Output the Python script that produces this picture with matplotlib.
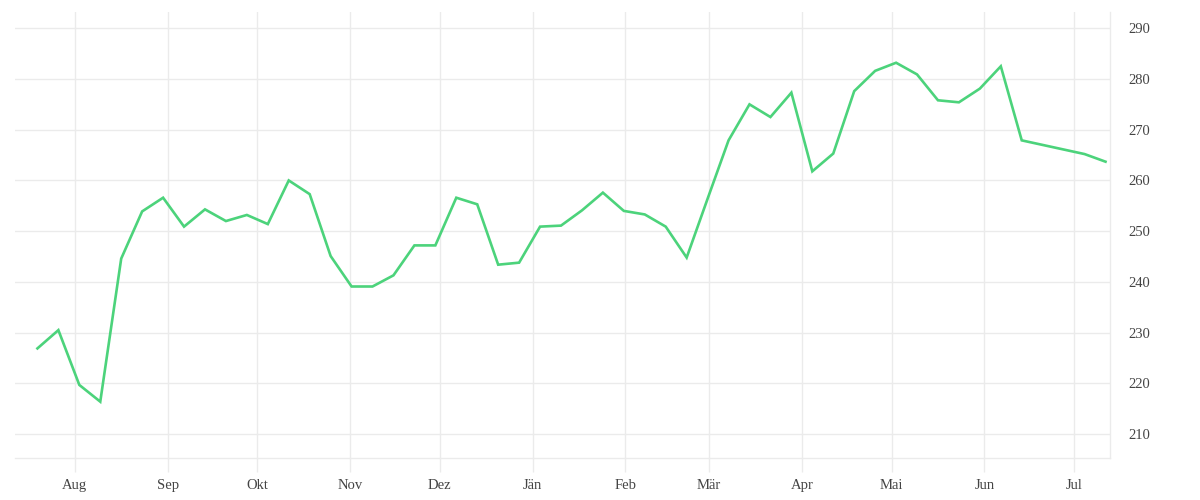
import matplotlib
matplotlib.use("Agg")
import matplotlib.pyplot as plt
import numpy as np
import datetime as dt

start_date = "2018-07-19T12:00"
values = [226.9, 230.5, 219.7, 216.4, 244.6, 253.9, 256.6, 250.9, 254.3, 252.0,
          253.2, 251.4, 260.0, 257.3, 245.1, 239.1, 239.1, 241.3, 247.2, 247.2,
          256.6, 255.3, 243.4, 243.8, 250.9, 251.1, 254.1, 257.6, 254.0, 253.3,
          250.9, 244.8, 256.4, 267.9, 275.0, 272.5, 277.3, 261.8, 265.3, 277.6,
          281.6, 283.2, 280.9, 275.8, 275.4, 278.1, 282.5, 267.9, 267.0, 266.1,
          265.2, 263.7]
month_labels = ["Aug", "Sep", "Okt", "Nov", "Dez", "Jän", "Feb", "Mär", "Apr",
                "Mai", "Jun", "Jul"]
y_ticks = [210, 220, 230, 240, 250, 260, 270, 280, 290]

dates = np.array(start_date, dtype="datetime64[m]") + np.arange(len(values)) * np.timedelta64(7, "D")
dates = dates.astype(dt.datetime)

y, m = 2018, 8
month_starts = []
for i in range(len(month_labels)):
    month_starts.append(dt.datetime(y, m, 1))
    m += 1
    if m > 12:
        m = 1
        y += 1

fig = plt.figure(figsize=(12, 5), dpi=100)
ax = fig.add_axes([0.0125, 0.084, 0.9125, 0.892])

grid_c = "#ebebeb"
ax.plot(dates, values, color="#4cd37b", linewidth=1.9, solid_joinstyle="miter", zorder=3)

ax.set_xlim(dt.datetime(2018, 7, 12), dt.datetime(2019, 7, 13))
ax.set_ylim(205.3, 293.2)

ax.set_xticks(month_starts)
ax.set_xticklabels(month_labels)
ax.set_yticks(y_ticks)
ax.set_yticklabels([str(v) for v in y_ticks])

ax.yaxis.tick_right()
ax.grid(True, color=grid_c, linewidth=1)
for s in ["left", "top"]:
    ax.spines[s].set_visible(False)
for s in ["right", "bottom"]:
    ax.spines[s].set_color(grid_c)
    ax.spines[s].set_linewidth(1)

ax.tick_params(axis="x", length=10, color=grid_c, width=1, pad=5,
               labelsize=10.5, labelcolor="#444444")
ax.tick_params(axis="y", length=0, pad=13, labelsize=10.5, labelcolor="#444444")
for lab in ax.get_xticklabels() + ax.get_yticklabels():
    lab.set_family("Liberation Serif")

fig.savefig("out.png", dpi=100, facecolor="white")
